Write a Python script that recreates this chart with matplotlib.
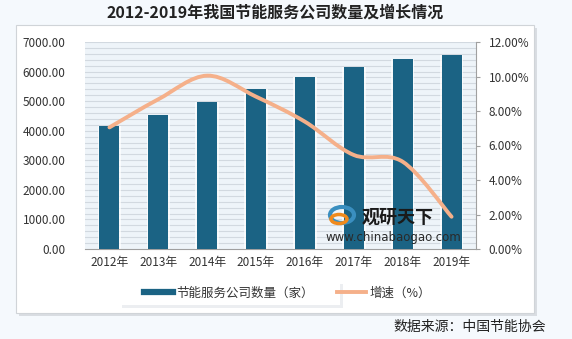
import matplotlib
matplotlib.use("Agg")
import matplotlib.pyplot as plt
from matplotlib.path import Path
from matplotlib.patches import PathPatch, Rectangle, Ellipse
from matplotlib.lines import Line2D
import numpy as np

plt.rcParams['font.family'] = ['Noto Sans CJK SC', 'DejaVu Sans']

years = ['2012年', '2013年', '2014年', '2015年', '2016年', '2017年', '2018年', '2019年']
companies = [4160, 4530, 4980, 5410, 5820, 6140, 6420, 6560]
growth = [7.05, 8.68, 10.05, 8.83, 7.38, 5.45, 5.06, 1.87]
left_ticks = [0, 1000, 2000, 3000, 4000, 5000, 6000, 7000]
right_ticks = [0, 2, 4, 6, 8, 10, 12]

title = '2012-2019年我国节能服务公司数量及增长情况'
source = '数据来源：中国节能协会'
bar_label = '节能服务公司数量（家）'
line_label = '增速（%）'

bar_color = '#1b6384'
line_color = '#f5b08a'

W, H = 572, 339
fig = plt.figure(figsize=(W / 100, H / 100), dpi=100)
fig.patch.set_facecolor('#f5f9fd')

# white panel with shadow
fig.patches.append(Rectangle((19 / W, 1 - 316 / H), (537 - 19) / W, (316 - 28) / H,
                             transform=fig.transFigure, facecolor='#d9dde2', edgecolor='none', zorder=-3))
fig.patches.append(Rectangle((16 / W, 1 - 313 / H), (534 - 16) / W, (313 - 25) / H,
                             transform=fig.transFigure, facecolor='white', edgecolor='#d0d4d8', lw=0.8, zorder=-2))
# legend box
fig.patches.append(Rectangle((122 / W, 1 - 308 / H), (343 - 122) / W, (306 - 282) / H,
                             transform=fig.transFigure, facecolor='#eceef1', edgecolor='none', zorder=-1))
fig.patches.append(Rectangle((118 / W, 1 - 305 / H), (340 - 118) / W, (305 - 282) / H,
                             transform=fig.transFigure, facecolor='white', edgecolor='none', zorder=-1))

ax = fig.add_axes([85 / W, 1 - 249 / H, (476 - 85) / W, (249 - 42) / H])
ax.set_facecolor('#eef4f9')
x = np.arange(len(years))
ax.set_xlim(-0.5, len(years) - 0.5)
ax.set_ylim(0, 7000)
for yv in np.arange(200, 7001, 200):
    ax.axhline(yv, color='#d2d9e0', lw=0.8, zorder=1)
# bar glow
ax.bar(x, companies, width=0.48, color='white', alpha=0.7, zorder=2)
ax.bar(x, companies, width=0.41, color=bar_color, zorder=3)
ax.set_yticks(left_ticks)
ax.set_yticklabels([f'{v:.2f}' for v in left_ticks], fontsize=8.5, color='#333333')
ax.set_xticks(x)
ax.set_xticklabels(years, fontsize=8.5, color='#333333')
ax.tick_params(axis='y', length=0, pad=14)
ax.tick_params(axis='x', length=0, pad=5)
for s in ['top', 'left', 'right']:
    ax.spines[s].set_visible(False)
ax.spines['bottom'].set_color('#a0a0a0')

ax2 = ax.twinx()
ax2.set_ylim(0, 12)
ax2.set_yticks(right_ticks)
ax2.set_yticklabels([f'{v:.2f}%' for v in right_ticks], fontsize=8.5, color='#333333')
ax2.tick_params(axis='y', length=3, color='#a0a0a0', pad=6)
for s in ['top', 'left', 'bottom']:
    ax2.spines[s].set_visible(False)
ax2.spines['right'].set_color('#a0a0a0')

# smoothed line (Catmull-Rom -> Bezier)
pts = np.column_stack([x, growth]).astype(float)
verts = [tuple(pts[0])]
codes = [Path.MOVETO]
n = len(pts)
for i in range(n - 1):
    p0 = pts[i - 1] if i > 0 else pts[i]
    p1 = pts[i]
    p2 = pts[i + 1]
    p3 = pts[i + 2] if i + 2 < n else pts[i + 1]
    c1 = p1 + (p2 - p0) / 6
    c2 = p2 - (p3 - p1) / 6
    verts += [tuple(c1), tuple(c2), tuple(p2)]
    codes += [Path.CURVE4] * 3
ax2.add_patch(PathPatch(Path(verts, codes), facecolor='none', edgecolor=line_color,
                        lw=2.8, capstyle='round', zorder=5))

# watermark
fig.text(362 / W, 1 - 217 / H, '观研天下', fontsize=13, fontweight='bold', color='#1a1a1a',
         va='center', ha='left', zorder=10)
fig.text(325 / W, 1 - 238 / H, 'www.chinabaogao.com', fontsize=8.5, color='#2a2a2a',
         va='center', ha='left', family='DejaVu Sans', zorder=10)
fig.patches.append(Ellipse((342 / W, 1 - 215 / H), 24 / W, 16 / H,
                           transform=fig.transFigure, facecolor='none',
                           edgecolor='#3a8fc0', lw=3, zorder=9))
fig.patches.append(Ellipse((339 / W, 1 - 219 / H), 16 / W, 9 / H,
                           transform=fig.transFigure, facecolor='none',
                           edgecolor='#f08a1c', lw=2.5, zorder=9))

# title
fig.text(275 / W, 1 - 13 / H, title, fontsize=11.5, fontweight='bold', color='#222222',
         ha='center', va='center')

handles = [Line2D([0], [0], color=bar_color, lw=4.5), Line2D([0], [0], color=line_color, lw=2.8)]
leg = fig.legend(handles, [bar_label, line_label], loc='center left',
                 bbox_to_anchor=(133 / W, 1 - 293 / H),
                 ncol=2, frameon=False, fontsize=9, handlelength=2.3, columnspacing=1.8,
                 handletextpad=0.3)
for t in leg.get_texts():
    t.set_color('#333333')

# source
fig.text(393 / W, 1 - 327 / H, source, fontsize=10, color='#222222', ha='left', va='center')

fig.savefig('out.png', dpi=100, facecolor=fig.get_facecolor())
